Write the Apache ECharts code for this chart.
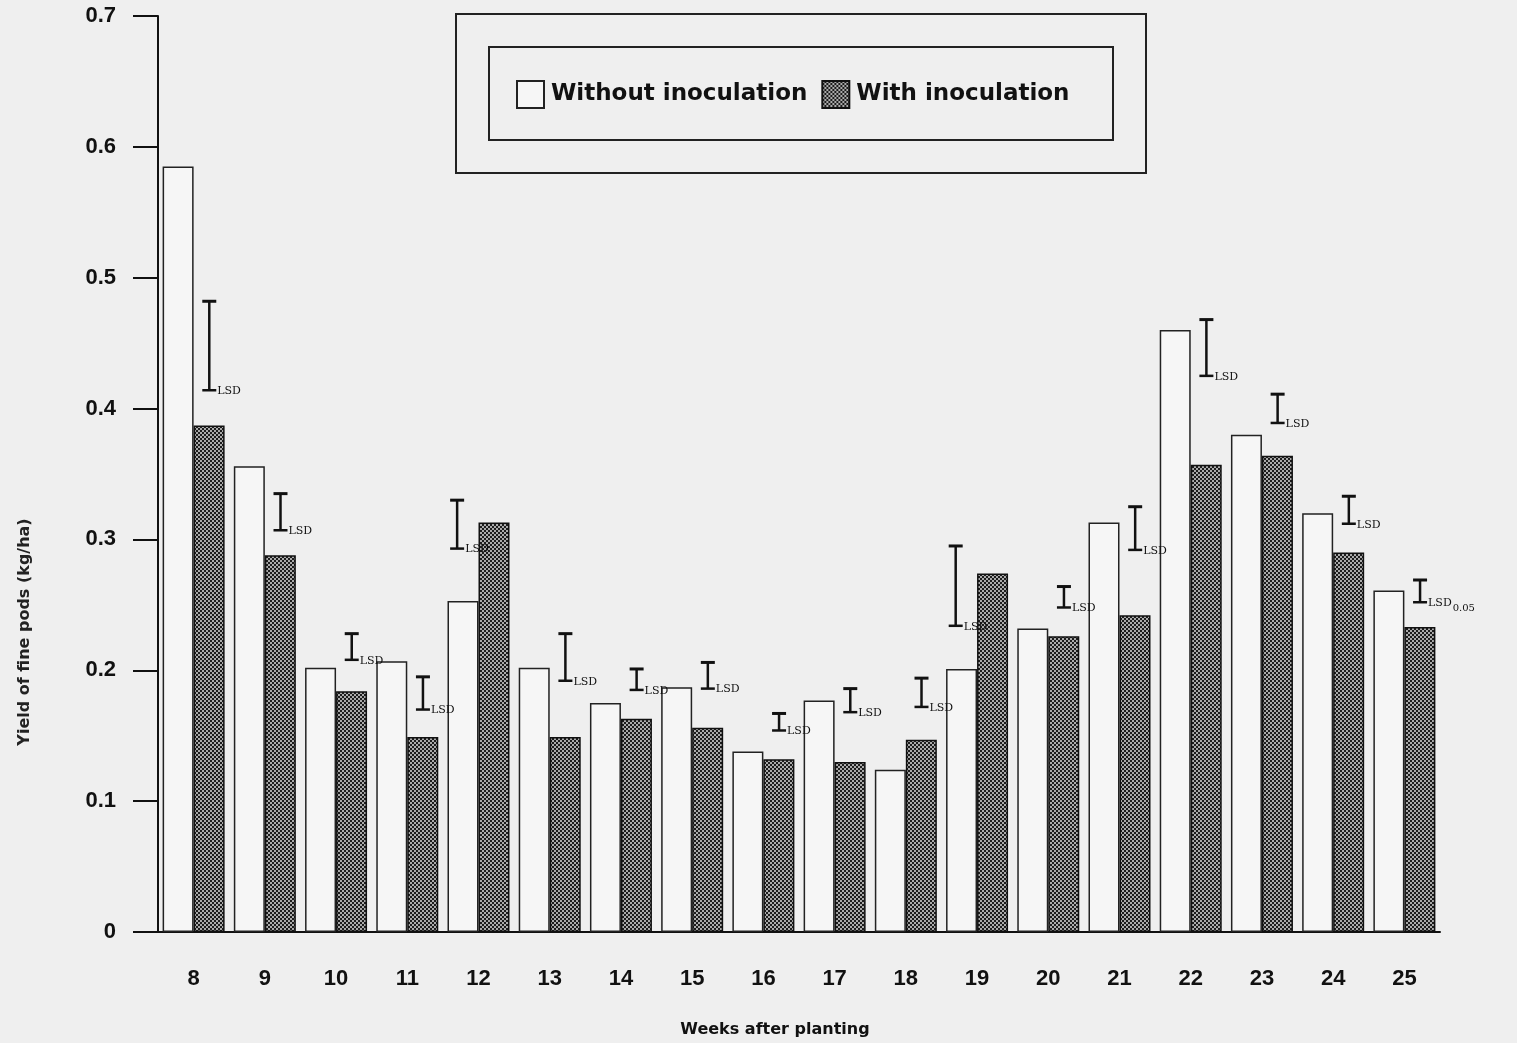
<!DOCTYPE html>
<html>
<head>
<meta charset="utf-8">
<script src="https://cdn.jsdelivr.net/npm/echarts@6/dist/echarts.min.js"></script>
<style>
html,body{margin:0;padding:0;background:#efefef;}
#chart{width:1517px;height:1043px;}
</style>
</head>
<body>
<div id="chart"></div>
<script>
// ---- data ----
const weeks = ['8','9','10','11','12','13','14','15','16','17','18','19','20','21','22','23','24','25'];
const withoutInoc = [0.585,0.356,0.202,0.207,0.253,0.202,0.175,0.187,0.138,0.177,0.124,0.201,0.232,0.313,0.460,0.380,0.320,0.261];
const withInoc    = [0.387,0.288,0.184,0.149,0.313,0.149,0.163,0.156,0.132,0.130,0.147,0.274,0.226,0.242,0.357,0.364,0.290,0.233];
const lsdLow      = [0.414,0.307,0.208,0.170,0.293,0.192,0.185,0.186,0.154,0.168,0.172,0.234,0.248,0.292,0.425,0.389,0.312,0.252];
const lsdHigh     = [0.482,0.335,0.228,0.195,0.330,0.228,0.201,0.206,0.167,0.186,0.194,0.295,0.264,0.325,0.468,0.411,0.333,0.269];
const yTicks = [0,0.1,0.2,0.3,0.4,0.5,0.6,0.7];

// hatch pattern
const pat = document.createElement('canvas');
pat.width = 4; pat.height = 4;
const pc = pat.getContext('2d');
pc.fillStyle = '#1c1c1c'; pc.fillRect(0,0,4,4);
pc.fillStyle = '#e8e8e8';
pc.beginPath(); pc.arc(1,1,0.95,0,Math.PI*2); pc.fill();
pc.beginPath(); pc.arc(3,3,0.95,0,Math.PI*2); pc.fill();

const FONT = '"Liberation Sans", Arial, sans-serif';
const WIDE = '"DejaVu Sans", "Liberation Sans", sans-serif';
const chart = echarts.init(document.getElementById('chart'));

const lsdData = lsdLow.map((l,i)=>[i, l, lsdHigh[i], withInoc[i]]);

chart.setOption({
  backgroundColor: '#efefef',
  animation: false,
  grid: {left: 158, right: 77, top: 16, bottom: 111},
  legend: {
    left: 511, top: 75,
    itemWidth: 27, itemHeight: 27, itemGap: 14,
    icon: 'rect',
    textStyle: {fontFamily: WIDE, fontWeight: 'bold', fontSize: 23, color: '#111', padding:[0,0,0,2]},
    data: ['Without inoculation','With inoculation']
  },
  xAxis: {
    type: 'category', data: weeks,
    boundaryGap: true,
    axisLine: {lineStyle: {color: '#111', width: 2}},
    axisTick: {alignWithLabel: true, length: 20, lineStyle: {color: '#222', width: 1.5}},
    axisLabel: {fontFamily: FONT, fontWeight: 'bold', fontSize: 22, color: '#111', margin: 36}
  },
  yAxis: {
    type: 'value', min: 0, max: 0.7, interval: 0.1,
    splitLine: {show: false},
    axisLine: {show: true, lineStyle: {color: '#111', width: 2}},
    axisTick: {show: true, inside: false, length: 25, lineStyle: {color: '#111', width: 2}},
    axisLabel: {fontFamily: FONT, fontWeight: 'bold', fontSize: 22, color: '#111', margin: 42,
      formatter: v => { const t = yTicks.find(x => Math.abs(x - v) < 1e-9); return t === 0 ? '0' : String(t); }}
  },
  graphic: [
    {type: 'rect', shape: {x: 456, y: 14, width: 690, height: 159}, style: {fill: 'none', stroke: '#222', lineWidth: 2}, z: 10},
    {type: 'rect', shape: {x: 489, y: 47, width: 624, height: 93}, style: {fill: 'none', stroke: '#222', lineWidth: 2}, z: 10},
    {type: 'text', x: 25, y: 632, rotation: Math.PI/2,
      style: {text: 'Yield of fine pods (kg/ha)', fontFamily: WIDE, fontWeight: 'bold', fontSize: 16, fill: '#222', textAlign: 'center', textVerticalAlign: 'middle'}},
    {type: 'text', x: 775, y: 1030,
      style: {text: 'Weeks after planting', fontFamily: WIDE, fontWeight: 'bold', fontSize: 16, fill: '#111', textAlign: 'center', textVerticalAlign: 'middle'}}
  ],
  series: [
    {
      name: 'Without inoculation', type: 'bar', data: withoutInoc,
      barWidth: 31, barGap: '0%',
      itemStyle: {color: '#f6f6f6', borderColor: '#222', borderWidth: 1.5}
    },
    {
      name: 'With inoculation', type: 'bar', data: withInoc,
      barWidth: 31, barGap: '0%',
      itemStyle: {color: {image: pat, repeat: 'repeat'}, borderColor: '#111', borderWidth: 1.5}
    },
    {
      name: 'LSD', type: 'custom', data: lsdData,
      encode: {x: 0, y: [1,2]},
      z: 5,
      renderItem: function(params, api){
        const i = api.value(0), lo = api.value(1), hi = api.value(2), hv = api.value(3);
        const pLo = api.coord([i, lo]);
        const pHi = api.coord([i, hi]);
        const band = api.size([1, 0])[0];
        const overWhite = lo < hv;
        const x = pLo[0] + (overWhite ? -0.3 : 0.22) * band;
        const hw = 7;
        const last = i === weeks.length - 1;
        return {
          type: 'group',
          children: [
            {type: 'line', shape: {x1: x, y1: pHi[1], x2: x, y2: pLo[1]}, style: {stroke: '#111', lineWidth: 2.5}},
            {type: 'line', shape: {x1: x - hw, y1: pHi[1], x2: x + hw, y2: pHi[1]}, style: {stroke: '#111', lineWidth: 3}},
            {type: 'line', shape: {x1: x - hw, y1: pLo[1], x2: x + hw, y2: pLo[1]}, style: {stroke: '#111', lineWidth: 2.5}},
            {type: 'text', x: x + 8, y: pLo[1] + 1,
              style: last ? {
                text: '{a|LSD}{b|0.05}',
                rich: {a: {fontFamily: '"DejaVu Serif", serif', fontSize: 11, fill: '#111'},
                       b: {fontFamily: '"DejaVu Serif", serif', fontSize: 10, fill: '#111', padding: [10,0,0,1]}},
                textVerticalAlign: 'middle', textAlign: 'left'
              } : {
                text: 'LSD', fontFamily: '"DejaVu Serif", serif', fontSize: 11, fill: '#111',
                textVerticalAlign: 'middle', textAlign: 'left'
              }}
          ]
        };
      }
    }
  ]
});
</script>
</body>
</html>
